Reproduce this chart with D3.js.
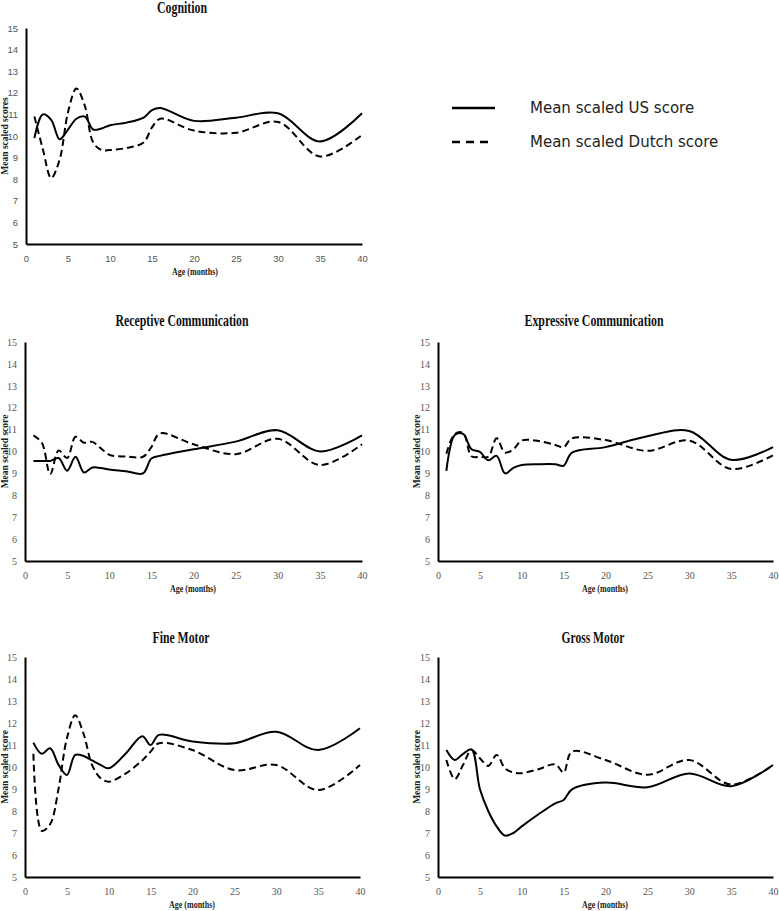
<!DOCTYPE html>
<html lang="en">
<head>
    <meta charset="UTF-8">
    <title>Mean scaled US and Dutch scores by age</title>
    <script src="https://d3js.org/d3.v7.min.js"></script>
    <style>
        body {
            margin: 0;
            background-color: #ffffff;
        }
        svg {
            display: block;
        }
        .title {
            font-family: "Liberation Serif", "Times New Roman", serif;
            font-weight: bold;
            font-size: 16px;
            fill: #111;
        }
        .axis-label {
            font-family: "Liberation Serif", "Times New Roman", serif;
            font-weight: bold;
            font-size: 9.5px;
            fill: #222;
        }
        .tick text {
            font-family: "Liberation Serif", "Times New Roman", serif;
            font-size: 10px;
            fill: #555;
        }
        .sans .tick text {
            font-family: "Liberation Sans", Arial, sans-serif;
            font-size: 9.5px;
        }
        .legend text {
            font-family: "DejaVu Sans", Verdana, sans-serif;
            font-size: 15px;
            fill: #222;
        }
    </style>
</head>
<body>
<div id="chart"></div>
<script>
    const ages = [1, 2, 3, 4, 5, 6, 7, 8, 9, 10, 12, 14, 15, 16, 20, 25, 30, 35, 40];

    const cognitionUS    = [9.9, 11.0, 10.75, 9.85, 10.3, 10.8, 10.9, 10.3, 10.35, 10.5, 10.62, 10.85, 11.2, 11.3, 10.7, 10.85, 11.05, 9.75, 11.05];
    const cognitionNL    = [10.9, 9.4, 8.05, 8.9, 11.1, 12.2, 11.4, 9.7, 9.35, 9.35, 9.45, 9.7, 10.4, 10.8, 10.25, 10.15, 10.65, 9.05, 10.05];

    const receptiveUS    = [9.57, 9.57, 9.57, 9.7, 9.12, 9.76, 9.04, 9.27, 9.25, 9.18, 9.1, 9.0, 9.68, 9.8, 10.1, 10.45, 10.97, 10.0, 10.74];
    const receptiveNL    = [10.74, 10.4, 8.97, 10.05, 9.7, 10.67, 10.4, 10.44, 10.15, 9.85, 9.77, 9.76, 10.2, 10.82, 10.33, 9.88, 10.58, 9.38, 10.33];

    const expressiveUS   = [9.12, 10.75, 10.8, 10.1, 9.98, 9.6, 9.8, 9.0, 9.25, 9.38, 9.42, 9.42, 9.35, 9.95, 10.2, 10.7, 10.94, 9.62, 10.2];
    const expressiveNL   = [9.9, 10.8, 10.85, 9.78, 9.76, 9.76, 10.6, 9.95, 10.1, 10.5, 10.48, 10.3, 10.2, 10.6, 10.52, 10.03, 10.5, 9.2, 9.83];

    const fineMotorUS    = [11.11, 10.6, 10.85, 10.1, 9.64, 10.55, 10.5, 10.3, 10.1, 9.94, 10.6, 11.4, 11.0, 11.46, 11.16, 11.08, 11.6, 10.77, 11.76];
    const fineMotorNL    = [10.6, 7.1, 7.4, 9.0, 11.3, 12.35, 11.5, 10.1, 9.5, 9.33, 9.7, 10.3, 10.7, 11.08, 10.77, 9.86, 10.09, 8.95, 10.09];

    const grossMotorUS   = [10.77, 10.32, 10.6, 10.8, 9.0, 8.0, 7.3, 6.88, 7.0, 7.3, 7.85, 8.35, 8.5, 8.98, 9.29, 9.08, 9.71, 9.13, 10.09];
    const grossMotorNL   = [10.32, 9.45, 10.1, 10.77, 10.4, 10.05, 10.55, 9.94, 9.75, 9.72, 9.9, 10.12, 9.75, 10.7, 10.32, 9.65, 10.32, 9.2, 10.09];

    const xTicks = [0, 5, 10, 15, 20, 25, 30, 35, 40];
    const yTicks = [5, 6, 7, 8, 9, 10, 11, 12, 13, 14, 15];
    const legendLabels = ["Mean scaled US score", "Mean scaled Dutch score"];

    const width = 779, height = 911;

    // titles in the original are set in a narrow bold serif, so each gets a fixed width
    const panels = [
        { title: "Cognition", us: cognitionUS, nl: cognitionNL, yLabel: "Mean scaled scores", sans: true,
          left: 26, right: 362, top: 28, bottom: 244, titleX: 182, titleY: 13, titleW: 50, yLabelX: 5, xLabelX: 195 },
        { title: "Receptive Communication", us: receptiveUS, nl: receptiveNL, yLabel: "Mean scaled score",
          left: 25, right: 362, top: 342, bottom: 561, titleX: 182, titleY: 326, titleW: 133, yLabelX: 5, xLabelX: 193 },
        { title: "Expressive Communication", us: expressiveUS, nl: expressiveNL, yLabel: "Mean scaled score",
          left: 438, right: 773, top: 342, bottom: 561, titleX: 594, titleY: 326, titleW: 139, yLabelX: 417, xLabelX: 605 },
        { title: "Fine Motor", us: fineMotorUS, nl: fineMotorNL, yLabel: "Mean scaled score",
          left: 25, right: 360, top: 657, bottom: 877, titleX: 181, titleY: 643, titleW: 57, yLabelX: 5, xLabelX: 192 },
        { title: "Gross Motor", us: grossMotorUS, nl: grossMotorNL, yLabel: "Mean scaled score",
          left: 438, right: 773, top: 657, bottom: 877, titleX: 593, titleY: 643, titleW: 63, yLabelX: 417, xLabelX: 605 }
    ];

    const svg = d3.select("#chart").append("svg")
        .attr("width", width)
        .attr("height", height);

    panels.forEach(p => {
        const g = svg.append("g").attr("class", p.sans ? "sans" : null);

        const x = d3.scaleLinear().domain([0, 40]).range([p.left, p.right]);
        const y = d3.scaleLinear().domain([5, 15]).range([p.bottom, p.top]);

        // axes: plain black lines, no tick marks
        const xAxis = g.append("g")
            .attr("transform", `translate(0,${p.bottom})`)
            .call(d3.axisBottom(x).tickValues(xTicks).tickSize(0).tickPadding(11));
        const yAxis = g.append("g")
            .attr("transform", `translate(${p.left},0)`)
            .call(d3.axisLeft(y).tickValues(yTicks).tickSize(0).tickPadding(8));
        [xAxis, yAxis].forEach(a => a.select(".domain")
            .attr("stroke", "#000")
            .attr("stroke-width", 2));

        g.append("text")
            .attr("class", "title")
            .attr("x", p.titleX)
            .attr("y", p.titleY)
            .attr("text-anchor", "middle")
            .attr("textLength", p.titleW)
            .attr("lengthAdjust", "spacingAndGlyphs")
            .text(p.title);

        g.append("text")
            .attr("class", "axis-label")
            .attr("x", p.xLabelX)
            .attr("y", p.bottom + 31)
            .attr("text-anchor", "middle")
            .attr("textLength", 46)
            .attr("lengthAdjust", "spacingAndGlyphs")
            .text("Age (months)");

        g.append("text")
            .attr("class", "axis-label")
            .attr("transform", `translate(${p.yLabelX + 3},${(p.top + p.bottom) / 2}) rotate(-90)`)
            .attr("text-anchor", "middle")
            .text(p.yLabel);

        const line = d3.line()
            .x(d => x(d[0]))
            .y(d => y(d[1]))
            .curve(d3.curveCatmullRom.alpha(0.5));

        g.append("path")
            .datum(d3.zip(ages, p.us))
            .attr("fill", "none")
            .attr("stroke", "#000")
            .attr("stroke-width", 2)
            .attr("d", line);

        g.append("path")
            .datum(d3.zip(ages, p.nl))
            .attr("fill", "none")
            .attr("stroke", "#000")
            .attr("stroke-width", 2)
            .attr("stroke-dasharray", "7,4")
            .attr("d", line);
    });

    // legend
    const legend = svg.append("g").attr("class", "legend");
    legendLabels.forEach((label, i) => {
        const ly = 108 + i * 34;
        legend.append("line")
            .attr("x1", 452)
            .attr("x2", i === 0 ? 495 : 490)
            .attr("y1", ly)
            .attr("y2", ly)
            .attr("stroke", "#000")
            .attr("stroke-width", 2.5)
            .attr("stroke-dasharray", i === 0 ? null : "8,6");
        legend.append("text")
            .attr("x", 530)
            .attr("y", ly + 5)
            .text(label);
    });
</script>
</body>
</html>
